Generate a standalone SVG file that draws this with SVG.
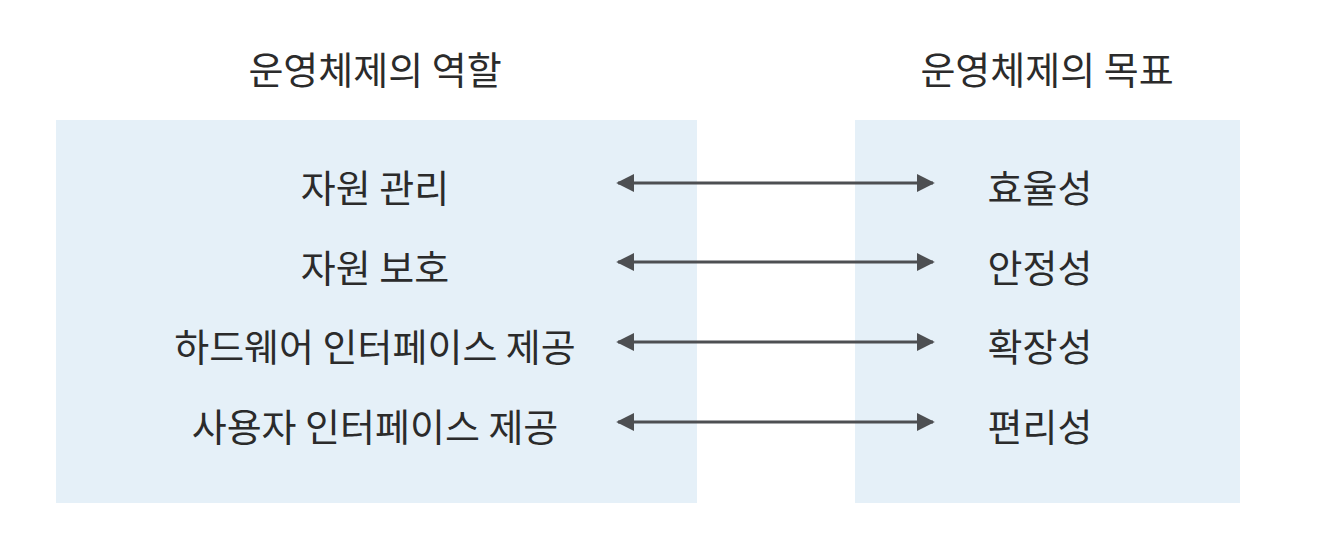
<svg xmlns="http://www.w3.org/2000/svg" width="1320" height="540" viewBox="0 0 1320 540">
<defs>
<style>
.t{font-family:"Noto Sans CJK KR","Noto Sans",sans-serif;fill:#2b2b2b;text-anchor:middle;}
.h{font-size:38px;}
.r{font-size:38px;}
.panel{fill:#e5f0f8;}
.c{stroke:#4d4f52;stroke-width:3;fill:none;marker-start:url(#ah);marker-end:url(#ah);}
</style>
<marker id="ah" viewBox="0 0 10 10" refX="9" refY="5" markerWidth="6" markerHeight="6.3" orient="auto-start-reverse" markerUnits="strokeWidth">
<path d="M0,0 L10,5 L0,10 z" fill="#4d4f52"/>
</marker>
</defs>
<rect width="1320" height="540" fill="#ffffff"/>
<g id="left-panel">
<rect class="panel" x="56" y="120" width="641" height="383"/>
<text class="t h" x="375" y="84">운영체제의 역할</text>
</g>
<g id="right-panel">
<rect class="panel" x="855" y="120" width="385" height="383"/>
<text class="t h" x="1047" y="84">운영체제의 목표</text>
</g>
<g id="role1"><text class="t r" x="375" y="202">자원 관리</text></g>
<g id="role2"><text class="t r" x="375" y="282">자원 보호</text></g>
<g id="role3"><text class="t r" x="375" y="361">하드웨어 인터페이스 제공</text></g>
<g id="role4"><text class="t r" x="375" y="441">사용자 인터페이스 제공</text></g>
<g id="goal1"><text class="t r" x="1040" y="202">효율성</text></g>
<g id="goal2"><text class="t r" x="1040" y="282">안정성</text></g>
<g id="goal3"><text class="t r" x="1040" y="361">확장성</text></g>
<g id="goal4"><text class="t r" x="1040" y="441">편리성</text></g>
<g id="connectors">
<line class="c" x1="618" y1="183" x2="933" y2="183"/>
<line class="c" x1="618" y1="262" x2="933" y2="262"/>
<line class="c" x1="618" y1="342" x2="933" y2="342"/>
<line class="c" x1="618" y1="422" x2="933" y2="422"/>
</g>
</svg>
